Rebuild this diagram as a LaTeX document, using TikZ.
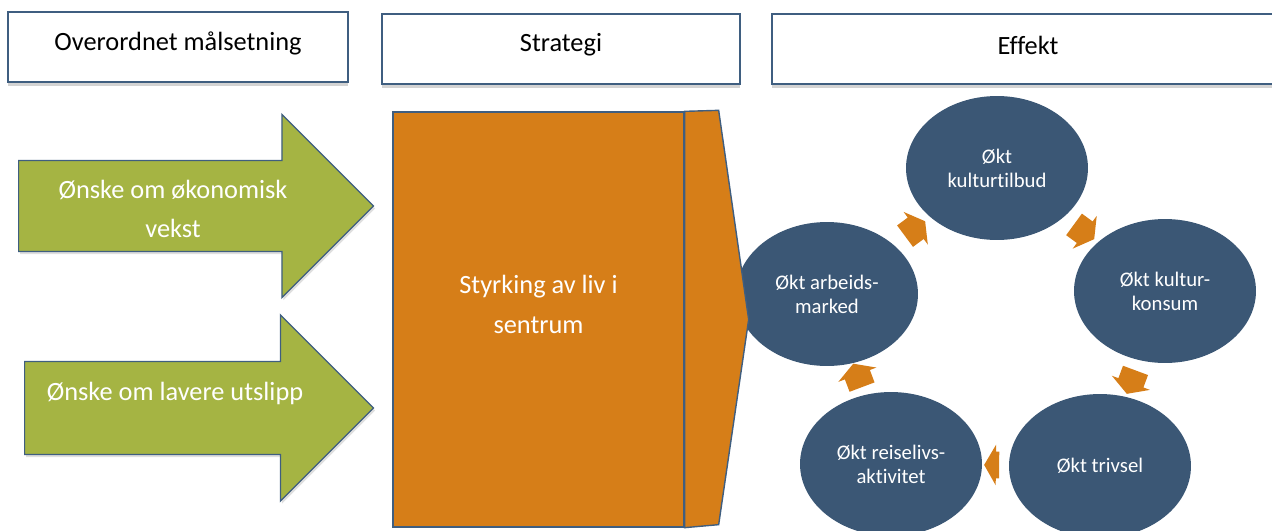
\documentclass[tikz,border=0pt]{standalone}
\usepackage{fontspec}
\setmainfont{Carlito}[Ligatures=NoCommon]
\usetikzlibrary{shapes.geometric,shapes.arrows,shadows,calc}

\definecolor{goalgreen}{HTML}{A5B443}
\definecolor{stratorange}{HTML}{D67E18}
\definecolor{effectblue}{HTML}{3B5775}
\definecolor{edgeblue}{HTML}{3F5E80}

\tikzstyle{header} = [rectangle, minimum height=1.4cm, draw=edgeblue, line width=0.8pt, fill=white, drop shadow={opacity=0.35, shadow xshift=0cm, shadow yshift=-0.09cm}]
\tikzstyle{headtext} = [font=\fontsize{15}{18}\selectfont, text=black]
\tikzstyle{goal} = [single arrow, anchor=tail, draw=edgeblue, line width=0.7pt, fill=goalgreen, inner xsep=0pt, inner ysep=0.9cm, single arrow tip angle=90, drop shadow={opacity=0.25, shadow xshift=0.03cm, shadow yshift=-0.05cm}]
\tikzstyle{goaltext} = [align=center, text=white, font=\fontsize{15}{22.7}\selectfont]
\tikzstyle{strategy} = [rectangle, draw=edgeblue, line width=0.8pt, fill=stratorange, text=white, align=center, font=\fontsize{15}{23}\selectfont]
\tikzstyle{effect} = [ellipse, fill=effectblue, minimum width=3.64cm, minimum height=2.88cm, inner sep=0pt, text=white, align=center, font=\fontsize{11.8}{13.6}\selectfont]
\tikzstyle{cycarrow} = [single arrow, fill=stratorange, inner xsep=0pt, inner ysep=0.26cm, minimum height=0.5cm, single arrow head extend=0.14cm, single arrow tip angle=120, sloped, allow upside down]

\begin{document}
\begin{tikzpicture}[x=0.02cm, y=-0.02cm]

\useasboundingbox (0,0) rectangle (1272,531);

% headers
\node (hgoal) [header, minimum width=6.8cm] at (178,47) {};
\node (hstrat) [header, minimum width=7.16cm] at (561,49) {};
\node (heffect) [header, minimum width=10.2cm] at (1027,49) {};
\node (hgoaltext) [headtext] at (178,43) {Overordnet målsetning};
\node (hstrattext) [headtext] at (561,45) {Strategi};
\node (hefftext) [headtext] at (1028,45) {Effekt};

% goals
\node (growth) [goal, minimum height=7.1cm, single arrow head extend=0.92cm] at (18,206) {};
\node (emission) [goal, minimum height=6.98cm, inner ysep=0.92cm, single arrow head extend=0.93cm] at (24,408) {};
\node (growthtext) [goaltext] at (173,209) {Ønske om økonomisk\\vekst};
\node (emissiontext) [goaltext] at (175,393) {Ønske om lavere utslipp};

% effects
\node (kulturtilbud) [effect] at (997,168) {Økt\\kulturtilbud};
\node (kulturkonsum) [effect] at (1165,291) {Økt kultur-\\konsum};
\node (trivsel) [effect] at (1100,466) {Økt trivsel};
\node (reiseliv) [effect] at (891,464) {Økt reiselivs-\\aktivitet};
\node (arbeid) [effect] at (827,294) {Økt arbeids-\\marked};

\path (arbeid) -- node[cycarrow] (a1) {} (kulturtilbud);
\path (kulturtilbud) -- node[cycarrow] (a2) {} (kulturkonsum);
\path (kulturkonsum) -- node[cycarrow] (a3) {} (trivsel);
\path (trivsel) -- node[cycarrow, minimum height=0.3cm] (a4) {} (reiseliv);
\path (reiseliv) -- node[cycarrow] (a5) {} (arbeid);

% strategy
\node (strat) [strategy, minimum width=5.82cm, minimum height=8.3cm, text depth=17pt] at (538.5,319.5) {Styrking av liv i\\sentrum};
\draw [draw=edgeblue, line width=0.8pt, fill=stratorange] (strat.north east) -- ++(34,-1) -- ($(strat.east)+(64,0)$) -- ($(strat.south east)+(34,-3)$) -- (strat.south east) -- cycle;

\end{tikzpicture}
\end{document}
